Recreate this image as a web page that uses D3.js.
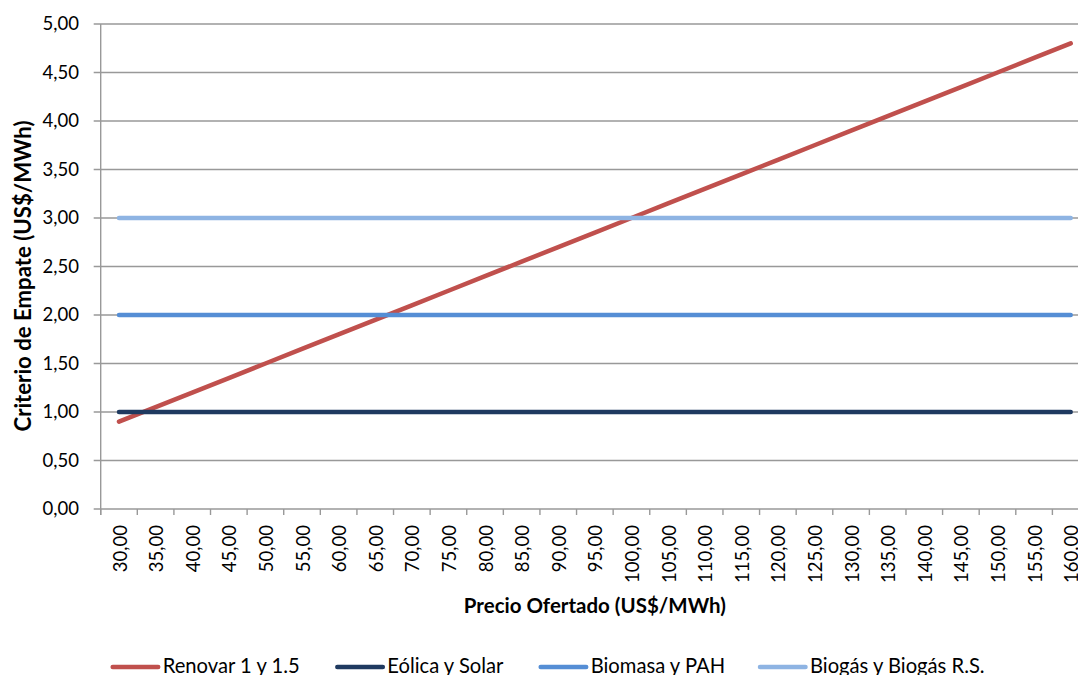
<!DOCTYPE html>
<html>
<head>
<meta charset="utf-8">
<script src="https://cdn.jsdelivr.net/npm/d3@7"></script>
<style>
  html, body { margin: 0; padding: 0; background: #fff; overflow: hidden; }
  svg { display: block; font-family: Lato, "Open Sans", sans-serif; }
</style>
</head>
<body>
<svg id="chart" width="1078" height="675"></svg>
<script>
// Offered price categories (US$/MWh)
const precios = [30, 35, 40, 45, 50, 55, 60, 65, 70, 75, 80, 85, 90, 95, 100,
                 105, 110, 115, 120, 125, 130, 135, 140, 145, 150, 155, 160];

// Tie-break criterion per technology (US$/MWh)
const renovar = [0.90, 1.05, 1.20, 1.35, 1.50, 1.65, 1.80, 1.95, 2.10, 2.25, 2.40, 2.55, 2.70, 2.85,
                 3.00, 3.15, 3.30, 3.45, 3.60, 3.75, 3.90, 4.05, 4.20, 4.35, 4.50, 4.65, 4.80];
const eolicaSolar = [1, 1, 1, 1, 1, 1, 1, 1, 1, 1, 1, 1, 1, 1, 1, 1, 1, 1, 1, 1, 1, 1, 1, 1, 1, 1, 1];
const biomasaPah = [2, 2, 2, 2, 2, 2, 2, 2, 2, 2, 2, 2, 2, 2, 2, 2, 2, 2, 2, 2, 2, 2, 2, 2, 2, 2, 2];
const biogas = [3, 3, 3, 3, 3, 3, 3, 3, 3, 3, 3, 3, 3, 3, 3, 3, 3, 3, 3, 3, 3, 3, 3, 3, 3, 3, 3];

const nombresSeries = ["Renovar 1 y 1.5", "Eólica y Solar", "Biomasa y PAH", "Biogás y Biogás R.S."];
const yTicks = [0, 0.5, 1, 1.5, 2, 2.5, 3, 3.5, 4, 4.5, 5];

const series = [
  { name: nombresSeries[0], values: renovar, color: "#C0504D" },
  { name: nombresSeries[1], values: eolicaSolar, color: "#1F3A60" },
  { name: nombresSeries[2], values: biomasaPah, color: "#558ED5" },
  { name: nombresSeries[3], values: biogas, color: "#8EB4E3" }
];

const es = d3.formatLocale({ decimal: ",", thousands: ".", grouping: [3], currency: ["$", ""] });
const fmt = es.format(".2f");

const svg = d3.select("#chart");
const plotLeft = 100.7, plotRight = 1089, plotTop = 24, plotBottom = 509;

const x = d3.scaleBand().domain(precios).range([plotLeft, plotRight]).padding(0);
const y = d3.scaleLinear().domain([0, 5]).range([plotBottom, plotTop]);
const cx = d => x(d) + x.bandwidth() / 2;

const gridColor = "#999999";

// pick a font size so that a sample string spans the wanted width
function sizeFor(text, weight, width) {
  const probe = svg.append("text").attr("font-size", 20).attr("font-weight", weight).text(text);
  const w = probe.node().getComputedTextLength();
  probe.remove();
  return 20 * width / w;
}
const tickSize = sizeFor("135,00", "normal", 58);
const legendSize = sizeFor("Renovar 1 y 1.5", "normal", 137);
const xTitleSize = sizeFor("Precio Ofertado (US$/MWh)", "bold", 262);
const yTitleSize = sizeFor("Criterio de Empate (US$/MWh)", "bold", 311);

// horizontal gridlines with their left tick stubs
svg.append("g")
  .selectAll("line")
  .data(yTicks)
  .join("line")
  .attr("x1", plotLeft - 7).attr("x2", 1078)
  .attr("y1", d => y(d)).attr("y2", d => y(d))
  .attr("stroke", gridColor).attr("stroke-width", 1.4);

// vertical axis line
svg.append("line")
  .attr("x1", plotLeft).attr("x2", plotLeft)
  .attr("y1", plotTop).attr("y2", plotBottom + 6)
  .attr("stroke", gridColor).attr("stroke-width", 1.4);

// category tick marks at band edges
const edges = precios.map(p => x(p)).concat([plotRight]);
svg.append("g")
  .selectAll("line")
  .data(edges)
  .join("line")
  .attr("x1", d => d).attr("x2", d => d)
  .attr("y1", plotBottom).attr("y2", plotBottom + 6)
  .attr("stroke", gridColor).attr("stroke-width", 1.4);

// y tick labels
svg.append("g")
  .selectAll("text")
  .data(yTicks)
  .join("text")
  .attr("x", 79).attr("y", d => y(d))
  .attr("dy", "0.35em")
  .attr("text-anchor", "end")
  .attr("font-size", tickSize)
  .attr("fill", "#000")
  .text(d => fmt(d));

// x tick labels, rotated
svg.append("g")
  .selectAll("text")
  .data(precios)
  .join("text")
  .attr("transform", d => `translate(${cx(d) + 1},525) rotate(-90)`)
  .attr("dy", "0.35em")
  .attr("text-anchor", "end")
  .attr("font-size", tickSize)
  .attr("fill", "#000")
  .text(d => fmt(d));

// axis titles
svg.append("text")
  .attr("x", (plotLeft + plotRight) / 2).attr("y", 613)
  .attr("text-anchor", "middle")
  .attr("font-size", xTitleSize).attr("font-weight", "bold")
  .text("Precio Ofertado (US$/MWh)");

svg.append("text")
  .attr("transform", `translate(31,276) rotate(-90)`)
  .attr("text-anchor", "middle")
  .attr("font-size", yTitleSize).attr("font-weight", "bold")
  .text("Criterio de Empate (US$/MWh)");

// series lines
const line = d3.line()
  .x((d, i) => cx(precios[i]))
  .y(d => y(d));

svg.append("g")
  .selectAll("path")
  .data(series)
  .join("path")
  .attr("d", s => line(s.values))
  .attr("fill", "none")
  .attr("stroke", s => s.color)
  .attr("stroke-width", 4.5)
  .attr("stroke-linecap", "round")
  .attr("stroke-linejoin", "round");

// legend
const legendX = [112.7, 337.3, 540.7, 760];
const leg = svg.append("g")
  .selectAll("g")
  .data(series)
  .join("g")
  .attr("transform", (d, i) => `translate(${legendX[i]},667)`);
leg.append("line")
  .attr("x1", 0).attr("x2", 45.5)
  .attr("y1", 0).attr("y2", 0)
  .attr("stroke", d => d.color)
  .attr("stroke-width", 4.5)
  .attr("stroke-linecap", "round");
leg.append("text")
  .attr("x", 50).attr("y", 6)
  .attr("font-size", legendSize)
  .attr("fill", "#000")
  .text(d => d.name);
</script>
</body>
</html>
